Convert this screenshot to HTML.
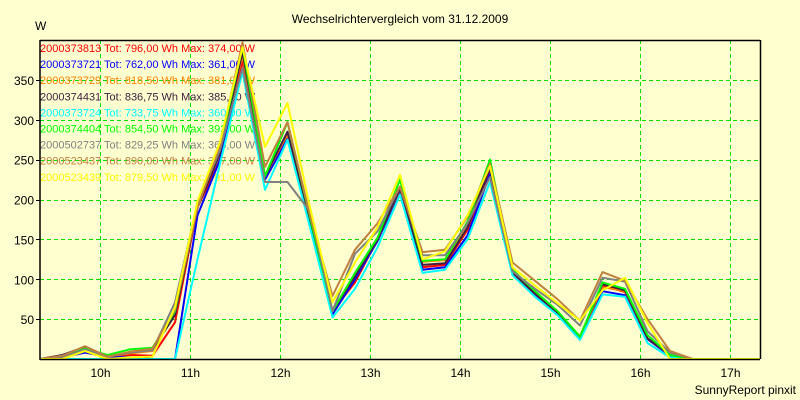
<!DOCTYPE html>
<html><head><meta charset="utf-8"><style>
body{margin:0;background:#ffffd0;}
svg{display:block;font-family:"Liberation Sans",Arial,sans-serif;}
</style></head><body>
<svg id="chart" width="800" height="400" viewBox="0 0 800 400" xmlns="http://www.w3.org/2000/svg">
<rect x="0" y="0" width="800" height="400" fill="#ffffd0"/>
<text x="400" y="23" font-size="12" text-anchor="middle" fill="#000">Wechselrichtervergleich vom 31.12.2009</text>
<text x="35" y="30" font-size="12" fill="#000">W</text>
<text x="796" y="394" font-size="12" text-anchor="end" fill="#000">SunnyReport pinxit</text>
<g id="grid"></g>
<g id="legend"></g>
<g id="series"></g>
<g id="axes"></g>
</svg>
<script>
const names = ["2000373813","2000373721","2000373729","2000374431","2000373724","2000374404","2000502737","2000523437","2000523439"];
const totals = ["796,00","762,00","818,50","836,75","733,75","854,50","829,25","890,00","879,50"];
const maxima = ["374,00","361,00","381,00","385,00","360,00","392,00","365,00","397,00","391,00"];
const colors = ["#ff0000","#0000ff","#ff8000","#402040","#00ffff","#00ff00","#808080","#c08040","#ffff00"];
const yTicks = [50,100,150,200,250,300,350];
const xTicks = ["10h","11h","12h","13h","14h","15h","16h","17h"];
const xTickHours = [10,11,12,13,14,15,16,17];
const startHour = 9 + 20/60;
const stepHour = 0.25;
const s0 = [0,2,10,3,5,4,46,190,250,374,229,279,170,60,96,150,212,115,118,162,238,108,82,58,28,92,84,25,5,0,0,0,0];
const s1 = [0,2,8,3,2,0,0,180,250,361,225,276,168,56,100,148,210,112,115,155,232,107,81,57,27,85,80,25,4,0,0,0,0];
const s2 = [0,2,12,3,7,10,58,190,262,381,229,282,170,60,104,150,213,122,124,170,243,108,82,58,28,90,85,26,5,0,0,0,0];
const s3 = [0,5,15,3,8,12,55,190,258,385,229,285,172,60,104,150,214,118,120,165,240,108,82,58,28,94,86,26,5,0,0,0,0];
const s4 = [0,0,0,0,0,0,0,125,245,360,212,275,165,52,88,140,206,108,112,150,222,105,78,55,24,81,78,20,2,0,0,0,0];
const s5 = [0,3,13,5,12,14,60,192,265,392,229,297,178,60,108,152,225,123,125,172,250,112,85,60,28,96,88,30,5,0,0,0,0];
const s6 = [0,2,12,3,8,11,71,195,262,365,222,222,185,60,132,160,216,130,130,170,228,110,88,68,42,102,97,35,8,0,0,0,0];
const s7 = [0,4,16,3,9,13,62,190,268,397,241,297,180,79,137,170,216,134,137,178,245,121,98,75,48,109,98,50,10,0,0,0,0];
const s8 = [0,0,10,0,2,3,65,198,272,391,266,321,190,71,121,165,231,125,135,180,242,115,92,70,48,86,102,45,0,0,0,0,0];
const seriesData = [s0,s1,s2,s3,s4,s5,s6,s7,s8];

const X0=40,X1=760,Y0=359,Y1=40,VMAX=400;
const xScale = h => X0 + (h - startHour) * 90;
const yScale = v => Y0 - v * (Y0 - Y1) / VMAX;
const NS="http://www.w3.org/2000/svg";
function mk(tag, parent){const e=document.createElementNS(NS,tag);parent.appendChild(e);return e;}

const grid=document.getElementById("grid");
yTicks.forEach(v=>{
  const l=mk("line",grid);
  
  
  l.setAttribute("x1",X0);l.setAttribute("x2",X1);
  l.setAttribute("y1",Math.round(yScale(v))+0.5);l.setAttribute("y2",Math.round(yScale(v))+0.5);
  l.setAttribute("stroke","#00e000");l.setAttribute("stroke-dasharray","4 3");
  const t=mk("text",grid);
  
  
  t.setAttribute("x",34);t.setAttribute("y",yScale(v)+5);t.setAttribute("text-anchor","end");
  t.setAttribute("font-size","12");t.textContent=v;
});
xTickHours.forEach((h,i)=>{
  const x=Math.round(xScale(h))+0.5;
  const l=mk("line",grid);
  
  
  l.setAttribute("x1",x);l.setAttribute("x2",x);l.setAttribute("y1",Y1);l.setAttribute("y2",Y0);
  l.setAttribute("stroke","#00e000");l.setAttribute("stroke-dasharray","4 3");
  const t=mk("text",grid);
  
  
  t.setAttribute("x",x);t.setAttribute("y",377);t.setAttribute("text-anchor","middle");
  t.setAttribute("font-size","12");t.textContent=xTicks[i];
});

const legend=document.getElementById("legend");
names.forEach((n,i)=>{
  const t=mk("text",legend);
  
  
  t.setAttribute("x",40);t.setAttribute("y",52+i*16.1);t.setAttribute("font-size","11");
  t.setAttribute("fill",colors[i]);
  t.textContent=n+" Tot: "+totals[i]+" Wh Max: "+maxima[i]+" W";
});

const sg=document.getElementById("series");
seriesData.forEach((arr,i)=>{
  const p=mk("polyline",sg);
  
  
  p.setAttribute("points",arr.map((v,k)=>xScale(startHour+k*stepHour).toFixed(1)+","+yScale(v).toFixed(1)).join(" "));
  p.setAttribute("fill","none");p.setAttribute("stroke",colors[i]);p.setAttribute("stroke-width","2");
  p.setAttribute("stroke-linejoin","round");
});

const ax=document.getElementById("axes");
[[X0,Y1,X0,Y0+1],[X0,Y0+0.5,X1,Y0+0.5],[X1+0.5,Y1,X1+0.5,Y0],[X0,Y1+0.5,X1,Y1+0.5]].forEach((c,i)=>{
  const l=mk("line",ax);
  
  
  l.setAttribute("x1",c[0]);l.setAttribute("y1",c[1]);l.setAttribute("x2",c[2]);l.setAttribute("y2",c[3]);
  l.setAttribute("stroke","#000");l.setAttribute("stroke-width","1.5");
});
yTicks.forEach(v=>{
  const l=mk("line",ax);
  
  
  l.setAttribute("x1",36);l.setAttribute("x2",40);
  l.setAttribute("y1",Math.round(yScale(v))+0.5);l.setAttribute("y2",Math.round(yScale(v))+0.5);
  l.setAttribute("stroke","#000");
});
</script>
</body></html>
